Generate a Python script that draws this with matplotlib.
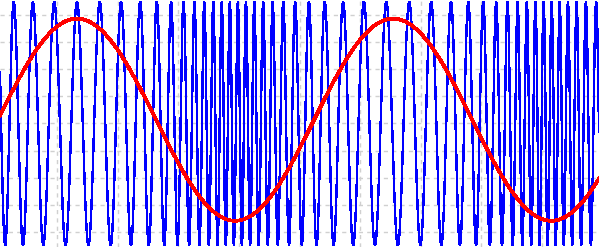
import numpy as np
import matplotlib
matplotlib.use("Agg")
import matplotlib.pyplot as plt

# Values (x in grid units, grid lines at 1..9; y grid lines at -4..4)
x_range = [0.06, 9.94]
y_range = [-4.57, 4.57]
# slow red wave
red_amplitude = 3.74
red_offset = 0.14
red_period = 5.215
red_peak_x = 1.33
# blue wave: local period 23 px (0.38 units) at red crest, 8 px (0.13 units) at red trough
blue_amplitude = 4.5
blue_period_mid = 0.2558
blue_period_dev = 0.1238
blue_crest_x = 1.33

x = np.linspace(x_range[0], x_range[1], 8000)
m = np.cos(2 * np.pi * (x - red_peak_x) / red_period)
red = red_offset + red_amplitude * m
local_period = blue_period_mid + blue_period_dev * m
dx = np.diff(x, prepend=x[0])
phase = 2 * np.pi * np.cumsum(dx / local_period)
phase += np.pi / 2 - np.interp(blue_crest_x, x, phase)
blue = blue_amplitude * np.sin(phase)

fig = plt.figure(figsize=(5.99, 2.47), dpi=100)
ax = fig.add_axes([0, 0, 1, 1])
ax.set_xlim(*x_range)
ax.set_ylim(*y_range)
ax.set_xticks(np.arange(1, 10))
ax.set_yticks(np.arange(-4, 5))
ax.grid(True, color="#d0d0d0", linestyle=(0, (3, 3)), linewidth=1.0)
ax.tick_params(length=0, labelbottom=False, labelleft=False)
for s in ax.spines.values():
    s.set_visible(False)
ax.plot(x, blue, color="#0000ff", linewidth=1.0, antialiased=False)
ax.plot(x, red, color="#ff0000", linewidth=2.0, antialiased=False)
fig.savefig("out.png", dpi=100)
